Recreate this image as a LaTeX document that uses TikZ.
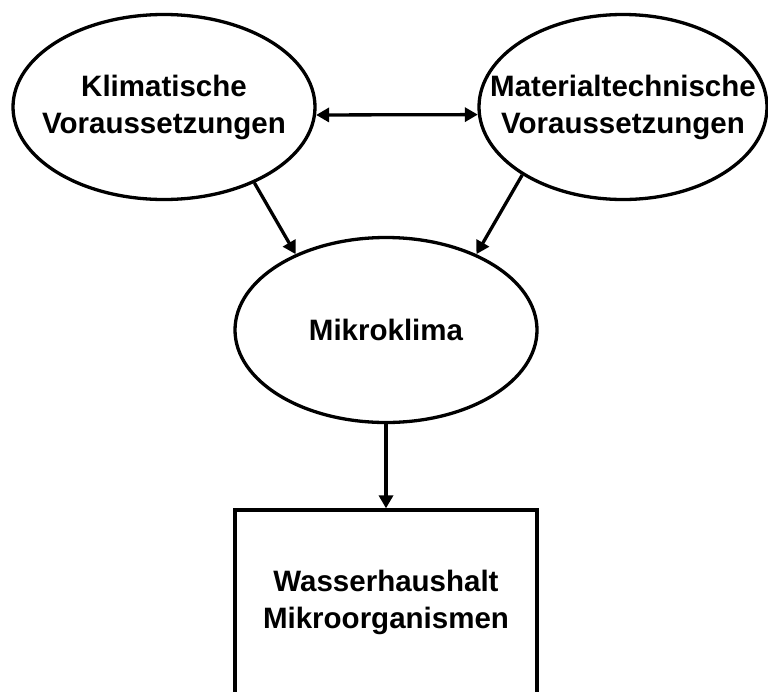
\documentclass[tikz,border=0pt]{standalone}
\usepackage{fontspec}
\setmainfont{Liberation Sans}
\usetikzlibrary{arrows.meta,shapes.geometric}
\begin{document}
\begin{tikzpicture}[x=1pt,y=-1pt,
  lbl/.style={font=\fontsize{29.5}{37}\selectfont\bfseries, align=center, text=black, inner sep=0pt},
  oval/.style={draw, line width=3.3pt, ellipse, inner sep=0pt, minimum width=302pt, minimum height=185pt},
  boxnode/.style={draw, line width=3.3pt, rectangle, inner sep=0pt, minimum width=302pt, minimum height=185pt},
  conn/.style={line width=3.3pt, -{Triangle[length=13pt,width=14pt]}},
  dconn/.style={line width=3.3pt, {Triangle[length=13pt,width=14pt]}-{Triangle[length=13pt,width=14pt]}}
]
\useasboundingbox (0,0) rectangle (768,691);
\clip (0,0) rectangle (768,691);
\node[oval] (k) at (164,107) {};
\node[lbl] (kt) at (k) {Klimatische\\Voraussetzungen};
\node[oval, minimum width=288pt] (mt) at (623,107) {};
\node[lbl] (mtt) at (mt) {Materialtechnische\\Voraussetzungen};
\node[oval] (m) at (386,330) {};
\node[lbl] (mk) at (m) {Mikroklima};
\node[boxnode] (w) at (386,602.5) {};
\node[lbl] (wt) at (w) {Wasserhaushalt\\Mikroorganismen};
\draw[dconn] (k.-3) -- (mt.183);
\draw[conn] (k.-40.5) -- (m.140);
\draw[conn] (mt.-146) -- (m.40);
\draw[conn] (m.south) -- (w.north);
\end{tikzpicture}
\end{document}
